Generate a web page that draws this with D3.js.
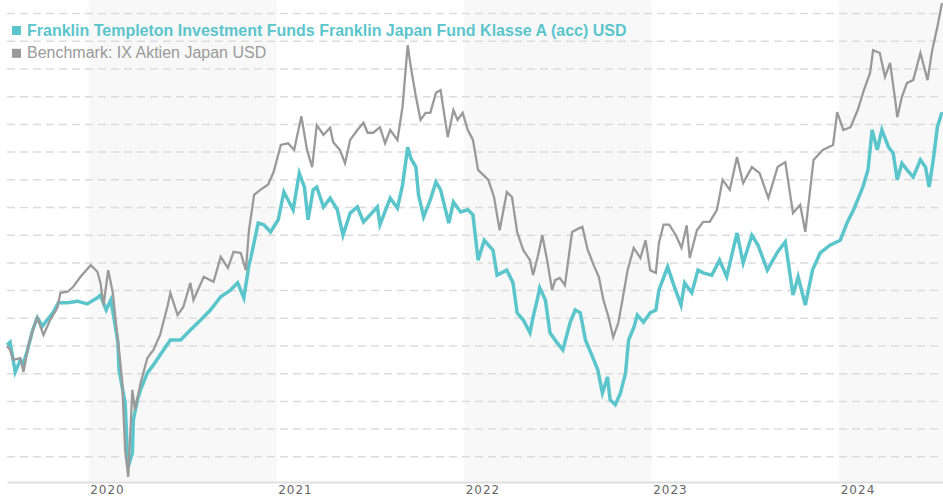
<!DOCTYPE html>
<html>
<head>
<meta charset="utf-8">
<script src="https://cdn.jsdelivr.net/npm/d3@7"></script>
<style>
  body { margin: 0; background: #fff; }
  svg { display: block; }
</style>
</head>
<body>
<svg id="chart" width="943" height="500"></svg>
<script>

// ======================= DATA ===============================
//  Performance in %
const fundName = 'Franklin Templeton Investment Funds Franklin Japan Fund Klasse A (acc) USD';
const benchName = 'Benchmark: IX Aktien Japan USD';

const fundDates = [
    '2019-07-26','2019-08-01','2019-08-11','2019-08-21','2019-08-27','2019-09-04','2019-09-14','2019-09-23','2019-10-03','2019-10-12','2019-10-24','2019-11-03','2019-11-21','2019-12-10','2019-12-29',
    '2020-01-18','2020-01-24','2020-02-04','2020-02-13','2020-02-19','2020-02-27','2020-02-29','2020-03-12','2020-03-16','2020-03-18','2020-03-26','2020-03-28','2020-04-05','2020-04-11','2020-04-24','2020-05-06','2020-05-19','2020-06-08','2020-06-28','2020-07-17','2020-08-06','2020-08-25','2020-09-14','2020-10-03','2020-10-17','2020-10-29','2020-11-08','2020-11-12','2020-11-26','2020-12-07','2020-12-20',
    '2021-01-04','2021-01-15','2021-02-02','2021-02-14','2021-02-24','2021-03-03','2021-03-13','2021-03-20','2021-04-02','2021-04-15','2021-04-29','2021-05-10','2021-05-24','2021-06-07','2021-06-19','2021-07-02','2021-07-16','2021-07-21','2021-08-10','2021-08-24','2021-09-03','2021-09-13','2021-09-19','2021-09-29','2021-10-04','2021-10-14','2021-10-27','2021-11-07','2021-11-16','2021-12-02','2021-12-11','2021-12-25',
    '2022-01-08','2022-01-18','2022-01-28','2022-02-09','2022-02-26','2022-03-06','2022-03-25','2022-04-06','2022-04-14','2022-04-26','2022-05-09','2022-05-15','2022-05-23','2022-05-28','2022-06-08','2022-06-17','2022-06-30','2022-07-12','2022-07-26','2022-08-05','2022-08-15','2022-08-25','2022-09-08','2022-09-18','2022-09-27','2022-10-07','2022-10-12','2022-10-22','2022-11-01','2022-11-11','2022-11-17','2022-11-27','2022-12-04','2022-12-16','2022-12-29',
    '2023-01-09','2023-01-15','2023-02-01','2023-02-13','2023-02-27','2023-03-06','2023-03-20','2023-04-01','2023-04-11','2023-04-28','2023-05-13','2023-05-27','2023-06-16','2023-06-28','2023-07-15','2023-07-27','2023-08-14','2023-09-03','2023-09-18','2023-10-03','2023-10-13','2023-10-27','2023-11-10','2023-11-25','2023-12-14',
    '2024-01-03','2024-01-17','2024-01-29','2024-02-16','2024-02-26','2024-03-05','2024-03-15','2024-03-24','2024-04-06','2024-04-15','2024-04-23','2024-05-02','2024-05-12','2024-05-24','2024-06-07','2024-06-17','2024-06-24','2024-07-02','2024-07-10','2024-07-19'
];
const fundValues = [
    0.1, 0.6, -4.8, -2.6, -3.2, -0.8, 2.8, 5.0, 3.5, 4.6, 6.0, 7.7, 7.7, 8.0, 7.5,
    8.6, 9.1, 6.4, 8.2, 5.1, 0.5, -4.4, -10.4, -18.9, -21.9, -19.4, -13.4, -9.8, -8.0, -5.0, -3.5, -1.7, 1.0, 1.0, 2.8, 4.6, 6.4, 8.8, 10.0, 11.3, 8.6, 14.5, 16.0, 22.1, 21.8, 20.5,
    22.7, 27.7, 24.5, 31.1, 28.6, 22.7, 28.1, 28.6, 25.0, 26.6, 24.5, 19.9, 23.9, 25.0, 22.3, 23.6, 25.0, 21.8, 26.6, 24.8, 29.0, 35.8, 33.8, 32.2, 27.2, 23.2, 26.3, 29.5, 28.1, 22.1, 25.9, 24.1,
    24.5, 23.6, 15.4, 19.0, 17.2, 12.7, 13.6, 11.3, 5.9, 4.6, 2.3, 5.1, 8.2, 10.4, 8.2, 2.3, 0.6, -0.8, 4.1, 6.4, 5.9, 1.0, -2.1, -4.4, -8.6, -5.7, -9.8, -10.7, -8.6, -5.0, 1.0, 3.2, 5.5, 4.2, 5.9,
    6.4, 10.0, 14.2, 10.9, 7.3, 11.3, 9.5, 13.6, 13.1, 12.7, 15.4, 12.4, 20.3, 14.9, 19.9, 18.1, 13.6, 16.9, 18.7, 9.1, 12.4, 7.3, 13.6, 16.7, 18.1,
    19.0, 22.3, 24.5, 28.6, 31.7, 38.9, 35.3, 38.9, 35.8, 34.7, 29.9, 32.9, 31.7, 30.4, 33.5, 32.2, 28.6, 33.5, 39.4, 42.1
];

const benchDates = [
    '2019-07-26','2019-08-01','2019-08-07','2019-08-21','2019-08-27','2019-09-06','2019-09-16','2019-09-23','2019-10-05','2019-10-18','2019-11-01','2019-11-07','2019-11-21','2019-12-02','2019-12-16',
    '2020-01-05','2020-01-18','2020-01-24','2020-01-30','2020-02-08','2020-02-17','2020-02-23','2020-02-29','2020-03-06','2020-03-12','2020-03-18','2020-03-26','2020-03-31','2020-04-11','2020-04-24','2020-05-06','2020-05-19','2020-06-03','2020-06-08','2020-06-22','2020-07-03','2020-07-17','2020-07-23','2020-08-12','2020-08-31','2020-09-14','2020-09-28','2020-10-09','2020-10-23','2020-11-02','2020-11-08','2020-11-18','2020-11-30','2020-12-15','2020-12-26',
    '2021-01-09','2021-01-23','2021-02-04','2021-02-18','2021-03-01','2021-03-11','2021-03-20','2021-04-02','2021-04-15','2021-04-21','2021-05-04','2021-05-14','2021-05-24','2021-06-07','2021-06-19','2021-06-27','2021-07-08','2021-07-21','2021-07-31','2021-08-10','2021-08-24','2021-09-03','2021-09-13','2021-09-19','2021-09-29','2021-10-08','2021-10-18','2021-10-27','2021-11-07','2021-11-16','2021-11-30','2021-12-11','2021-12-19','2021-12-29',
    '2022-01-08','2022-01-18','2022-01-28','2022-02-07','2022-02-17','2022-02-28','2022-03-11','2022-03-25','2022-04-04','2022-04-14','2022-04-26','2022-05-09','2022-05-15','2022-05-24','2022-06-02','2022-06-12','2022-06-21','2022-06-27','2022-07-06','2022-07-16','2022-07-30','2022-08-09','2022-08-19','2022-08-29','2022-09-10','2022-09-20','2022-09-29','2022-10-09','2022-10-18','2022-10-28','2022-11-05','2022-11-15','2022-11-27','2022-12-10','2022-12-20','2022-12-29',
    '2023-01-09','2023-01-15','2023-01-24','2023-02-04','2023-02-17','2023-02-28','2023-03-10','2023-03-16','2023-03-30','2023-04-11','2023-04-24','2023-05-08','2023-05-19','2023-06-02','2023-06-16','2023-06-28','2023-07-15','2023-07-30','2023-08-16','2023-09-03','2023-09-18','2023-10-03','2023-10-17','2023-10-27','2023-11-12','2023-11-30','2023-12-20','2023-12-28',
    '2024-01-09','2024-01-23','2024-02-06','2024-02-18','2024-03-01','2024-03-07','2024-03-20','2024-03-30','2024-04-09','2024-04-19','2024-04-23','2024-05-02','2024-05-12','2024-05-24','2024-06-07','2024-06-21','2024-06-30','2024-07-10','2024-07-19'
];
const benchValues = [
    -0.1, -0.8, -2.6, -2.3, -4.8, 0.1, 3.3, 5.0, 1.9, 4.6, 6.8, 9.5, 9.7, 10.6, 12.4,
    14.5, 13.3, 11.3, 7.3, 13.6, 9.5, 4.1, -0.8, -6.2, -18.9, -23.7, -8.0, -11.6, -6.8, -2.3, -0.8, 1.9, 7.3, 9.5, 5.5, 6.9, 11.3, 8.2, 12.4, 11.5, 16.0, 14.0, 16.9, 16.7, 13.6, 20.8, 27.2, 28.1, 29.0, 31.3,
    36.2, 36.5, 35.3, 41.4, 35.3, 32.2, 39.8, 38.0, 39.3, 36.7, 35.3, 32.9, 37.1, 38.9, 40.2, 38.4, 38.4, 39.4, 36.5, 38.9, 37.1, 43.1, 54.2, 50.3, 44.9, 40.7, 42.0, 42.0, 45.6, 46.1, 37.6, 42.5, 40.7, 42.0,
    38.9, 37.1, 31.7, 30.8, 29.9, 26.8, 20.8, 27.7, 26.8, 20.5, 17.2, 15.4, 12.7, 16.0, 19.9, 15.1, 10.0, 11.8, 12.2, 10.9, 20.5, 21.0, 21.4, 17.4, 14.5, 12.4, 8.2, 5.1, 1.5, 4.1, 8.2, 13.6, 17.6, 15.8, 19.0, 13.6,
    13.1, 18.5, 21.8, 21.8, 19.9, 17.6, 21.7, 15.8, 20.8, 22.3, 22.3, 24.5, 29.9, 28.1, 34.0, 29.3, 32.2, 31.1, 26.6, 32.2, 33.1, 23.9, 25.4, 20.5, 33.5, 35.3, 36.2, 42.1,
    38.9, 39.4, 42.5, 46.1, 49.2, 53.3, 52.8, 48.5, 51.0, 44.3, 41.2, 44.9, 47.4, 47.9, 52.8, 47.9, 53.3, 57.5, 61.8
];

const gridValues = [-20, -15, -10, -5, 0, 5, 10, 15, 20, 25, 30, 35, 40, 45, 50, 55, 60];
const yearTicks = ['2020', '2021', '2022', '2023', '2024'];
const shadedYears = ['2020', '2022', '2024'];


// ======================= SETUP ===============================
const width = 943;
const height = 500;
const plot = { left: 7, right: 943, top: 0, bottom: 482 };
const teal = '#5bc5cc';
const grey = '#9a9a9a';

const parseDate = d3.timeParse('%Y-%m-%d');
const fund = fundDates.map((d, i) => ({ date: parseDate(d), value: fundValues[i] }));
const bench = benchDates.map((d, i) => ({ date: parseDate(d), value: benchValues[i] }));

const svgElem = d3.select('#chart');


// ======================= SCALES ===============================
const xScale = d3.scaleTime()
    .domain([parseDate('2019-07-26'), parseDate('2024-07-21')])
    .range([plot.left, plot.right]);

const yScale = d3.scaleLinear()
    .domain([-24.64, 62.36])
    .range([plot.bottom, plot.top]);


// ======================= YEAR BANDS ===============================
svgElem.append('g')
    .attr('class', 'bands')
    .selectAll('rect')
    .data(shadedYears)
    .enter()
    .append('rect')
    .attr('x', d => xScale(parseDate(d + '-01-01')))
    .attr('y', plot.top)
    .attr('width', d => Math.min(xScale(parseDate((+d + 1) + '-01-01')), plot.right) - xScale(parseDate(d + '-01-01')))
    .attr('height', plot.bottom - plot.top)
    .attr('fill', '#f8f8f8');


// ======================= GRID ===============================
const yAxisGenerator = d3.axisLeft(yScale)
    .tickValues(gridValues)
    .tickSize(-(plot.right - plot.left))
    .tickFormat('');

const yAxis = svgElem.append('g')
    .attr('id', 'y-axis')
    .attr('transform', `translate(${plot.left},0)`)
    .call(yAxisGenerator);
yAxis.select('.domain').remove();
yAxis.selectAll('line')
    .attr('stroke', '#dcdcdc')
    .attr('stroke-width', 1.5)
    .attr('stroke-dasharray', '8,5');


// ======================= X-AXIS ===============================
const xAxisGenerator = d3.axisBottom(xScale)
    .tickValues(yearTicks.map(y => parseDate(y + '-01-01')))
    .tickFormat(d3.timeFormat('%Y'))
    .tickSize(0)
    .tickPadding(0);

const xAxis = svgElem.append('g')
    .attr('id', 'x-axis')
    .attr('transform', `translate(0,${plot.bottom})`)
    .call(xAxisGenerator);
xAxis.select('.domain')
    .attr('stroke', '#e0e0e0')
    .attr('stroke-width', 2);
//  Year labels sit at the start of each year, left aligned
xAxis.selectAll('text')
    .attr('text-anchor', 'start')
    .attr('dx', 1)
    .attr('dy', 0)
    .attr('y', 12)
    .attr('fill', '#666')
    .style('font-family', '"DejaVu Sans", sans-serif')
    .style('font-size', '12px')
    .style('letter-spacing', '1px');


// ======================= LINES ===============================
const lineGenerator = d3.line()
    .x(d => xScale(d.date))
    .y(d => yScale(d.value));

svgElem.append('path')
    .datum(fund)
    .attr('class', 'line-fund')
    .attr('fill', 'none')
    .attr('stroke', teal)
    .attr('stroke-width', 3.5)
    .attr('d', lineGenerator);

svgElem.append('path')
    .datum(bench)
    .attr('class', 'line-bench')
    .attr('fill', 'none')
    .attr('stroke', grey)
    .attr('stroke-width', 2.3)
    .attr('d', lineGenerator);


// ======================= LEGEND ===============================
const legendItems = [
    { name: fundName, color: teal, weight: 'bold', y: 35.5 },
    { name: benchName, color: grey, weight: 'normal', y: 58.3 }
];

const legend = svgElem.append('g').attr('id', 'legend');
legend.selectAll('rect')
    .data(legendItems)
    .enter()
    .append('rect')
    .attr('x', 12)
    .attr('y', d => d.y - 9.5)
    .attr('width', 9)
    .attr('height', 9)
    .attr('fill', d => d.color);

legend.selectAll('text')
    .data(legendItems)
    .enter()
    .append('text')
    .attr('x', 27)
    .attr('y', d => d.y)
    .attr('fill', d => d.color)
    .style('font-family', '"Liberation Sans", Arial, sans-serif')
    .style('font-size', '16px')
    .style('font-weight', d => d.weight)
    .text(d => d.name);

</script>
</body>
</html>
